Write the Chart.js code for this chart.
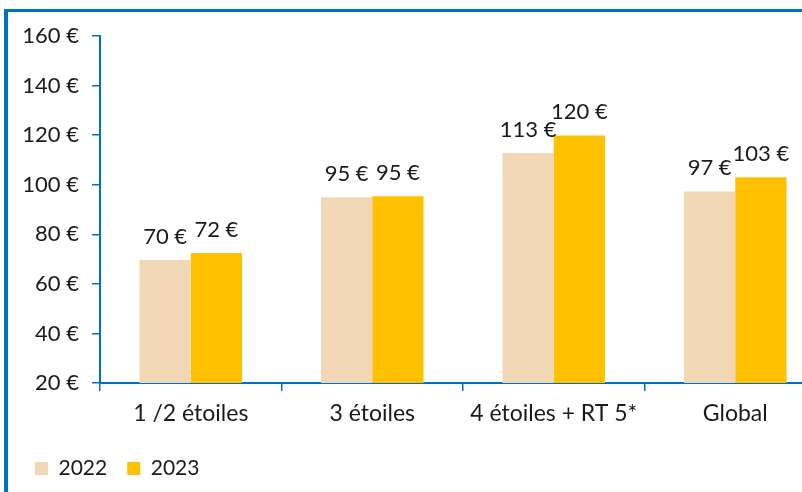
<!DOCTYPE html>
<html><head><meta charset="utf-8">
<script src="https://cdn.jsdelivr.net/npm/chart.js@4/dist/chart.umd.min.js"></script>
<style>
html,body{margin:0;padding:0;background:#fff;overflow:hidden;width:802px;height:492px;}
#frame{position:absolute;left:4px;top:9px;width:900px;height:600px;border-top:3px solid #0070C0;border-left:4px solid #0070C0;box-sizing:border-box;}
#wrap{position:absolute;left:0;top:0;width:826px;height:492px;}
</style></head>
<body>
<div id="frame"></div>
<div id="wrap"><canvas id="c" width="826" height="492"></canvas></div>
<script>
const categories = ["1 /2 étoiles", "3 étoiles", "4 étoiles + RT 5*", "Global"];
const seriesNames = ["2022", "2023"];
const values2022 = [69.6, 94.9, 112.8, 97.3];
const values2023 = [72.4, 95.3, 119.9, 103.0];
const labels2022 = ["70 €", "95 €", "113 €", "97 €"];
const labels2023 = ["72 €", "95 €", "120 €", "103 €"];

const FONT = "Lato, 'Open Sans', sans-serif";
const TEXT = "#1a1a1a";
const BLUE = "#0070C0";

const valueLabels = {
  id: 'valueLabels',
  afterDatasetsDraw(chart) {
    const ctx = chart.ctx;
    ctx.save();
    ctx.font = "22px " + FONT;
    ctx.fillStyle = TEXT;
    ctx.textAlign = 'center';
    ctx.textBaseline = 'alphabetic';
    chart.data.datasets.forEach((ds, di) => {
      const meta = chart.getDatasetMeta(di);
      meta.data.forEach((bar, i) => {
        ctx.fillText(ds.valueLabels[i], bar.x, bar.y - 16);
      });
    });
    ctx.restore();
  }
};

new Chart(document.getElementById('c'), {
  type: 'bar',
  data: {
    labels: categories,
    datasets: [
      { label: seriesNames[0], data: values2022, valueLabels: labels2022, backgroundColor: '#F2D7B6', borderWidth: 0 },
      { label: seriesNames[1], data: values2023, valueLabels: labels2023, backgroundColor: '#FFC000', borderWidth: 0 }
    ]
  },
  options: {
    responsive: false,
    animation: false,
    layout: { padding: { top: 36, left: 15, right: 0, bottom: 3 } },
    categoryPercentage: 0.565,
    barPercentage: 1.0,
    plugins: {
      tooltip: { enabled: false },
      legend: {
        position: 'bottom',
        align: 'start',
        labels: {
          font: { family: FONT, size: 21 },
          color: TEXT,
          boxWidth: 13,
          boxHeight: 13,
          padding: 20
        }
      }
    },
    scales: {
      x: {
        grid: { display: true, drawOnChartArea: false, drawTicks: true, tickLength: 8, color: BLUE, lineWidth: 1.5, offset: true },
        border: { display: true, color: BLUE, width: 2 },
        ticks: { font: { family: FONT, size: 23 }, color: TEXT, padding: 9, maxRotation: 0 },
        afterFit(s) { s.height = 55; }
      },
      y: {
        min: 20, max: 160,
        ticks: { stepSize: 20, font: { family: FONT, size: 22 }, color: TEXT, padding: 13, callback: v => v + ' €' },
        grid: { display: true, drawOnChartArea: false, drawTicks: true, tickLength: 8, color: BLUE, lineWidth: 1.5 },
        border: { display: true, color: BLUE, width: 2 },
        afterFit(s) { s.width = 85; }
      }
    }
  },
  plugins: [valueLabels]
});
</script>
</body></html>
